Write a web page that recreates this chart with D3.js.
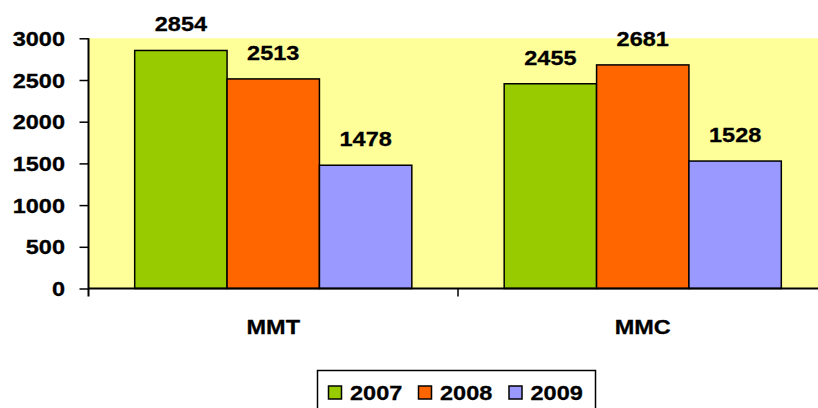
<!DOCTYPE html>
<html><head><meta charset="utf-8">
<script src="https://cdn.jsdelivr.net/npm/d3@7"></script>
<style>body{margin:0;background:#fff;} svg{display:block;}</style>
</head><body>
<svg id="c" width="818" height="408"></svg>
<script>
const categories = ["MMT", "MMC"];
const seriesNames = ["2007", "2008", "2009"];
const values2007 = [2854, 2455];
const values2008 = [2513, 2681];
const values2009 = [1478, 1528];
const yTicks = [0, 500, 1000, 1500, 2000, 2500, 3000];
const colors = ["#99CC00", "#FF6600", "#9999FF"];

const series = [values2007, values2008, values2009];
const svg = d3.select("#c");
const L = 88.5, R = 827.5, T = 38.3, B = 288.5;
const SX = 1.12;
const FS = 21;
const font = "'Liberation Sans', Arial, sans-serif";

const x = d3.scaleBand().domain(categories).range([L, R]).paddingInner(0.25).paddingOuter(0.125);
const xs = d3.scaleBand().domain(seriesNames).range([0, x.bandwidth()]);
const y = d3.scaleLinear().domain([0, 3000]).range([B, T]);

svg.append("rect").attr("x", L).attr("y", T).attr("width", R - L).attr("height", B - T).attr("fill", "#FFFF99");

function stext(g, tx, ty, txt, anchor, size) {
  g.append("text").attr("transform", `translate(${tx},${ty}) scale(${SX},1)`)
    .attr("text-anchor", anchor).attr("font-family", font).attr("font-weight", "bold")
    .attr("font-size", size).attr("fill", "#000").attr("stroke", "#000").attr("stroke-width", 0.3).text(txt);
}

// bars
categories.forEach((c, i) => {
  series.forEach((s, j) => {
    const bx = x(c) + xs(seriesNames[j]);
    svg.append("rect").attr("x", bx).attr("y", y(s[i])).attr("width", xs.bandwidth())
      .attr("height", y(0) - y(s[i])).attr("fill", colors[j]).attr("stroke", "#000").attr("stroke-width", 1.5);
    stext(svg, bx + xs.bandwidth() / 2, y(s[i]) - 19, s[i], "middle", FS);
  });
});

// y axis
const yAxis = svg.append("g").attr("transform", `translate(${L},0)`)
  .call(d3.axisLeft(y).tickValues(yTicks).tickSize(9).tickFormat(""));
yAxis.select(".domain").remove();
yAxis.selectAll("line").attr("stroke", "#000").attr("stroke-width", 1.5);
yTicks.forEach(t => stext(svg, 65, y(t) + 7.5, t, "end", FS));
svg.append("line").attr("x1", L).attr("x2", L).attr("y1", T).attr("y2", B + 8).attr("stroke", "#000").attr("stroke-width", 2);

// x axis
svg.append("line").attr("x1", L).attr("x2", 818).attr("y1", B).attr("y2", B).attr("stroke", "#000").attr("stroke-width", 2);
const xAxis = svg.append("g").attr("transform", `translate(0,${B})`)
  .call(d3.axisBottom(x).tickSize(0).tickFormat(""));
xAxis.select(".domain").remove();
const midX = (x(categories[0]) + x.bandwidth() + x(categories[1])) / 2;
svg.append("line").attr("x1", midX).attr("x2", midX)
  .attr("y1", B).attr("y2", B + 8).attr("stroke", "#000").attr("stroke-width", 1.5);
categories.forEach(c => stext(svg, x(c) + x.bandwidth() / 2, 333.5, c, "middle", FS));

// legend
const lg = svg.append("g");
lg.append("rect").attr("x", 317.5).attr("y", 370.5).attr("width", 278).attr("height", 44)
  .attr("fill", "#fff").attr("stroke", "#000").attr("stroke-width", 1.5);
const legX = [328.5, 418.5, 509];
seriesNames.forEach((n, j) => {
  lg.append("rect").attr("x", legX[j]).attr("y", 386).attr("width", 13).attr("height", 13)
    .attr("fill", colors[j]).attr("stroke", "#000").attr("stroke-width", 1.5);
  stext(lg, legX[j] + 21.5, 400, n, "start", FS);
});
</script>
</body></html>
